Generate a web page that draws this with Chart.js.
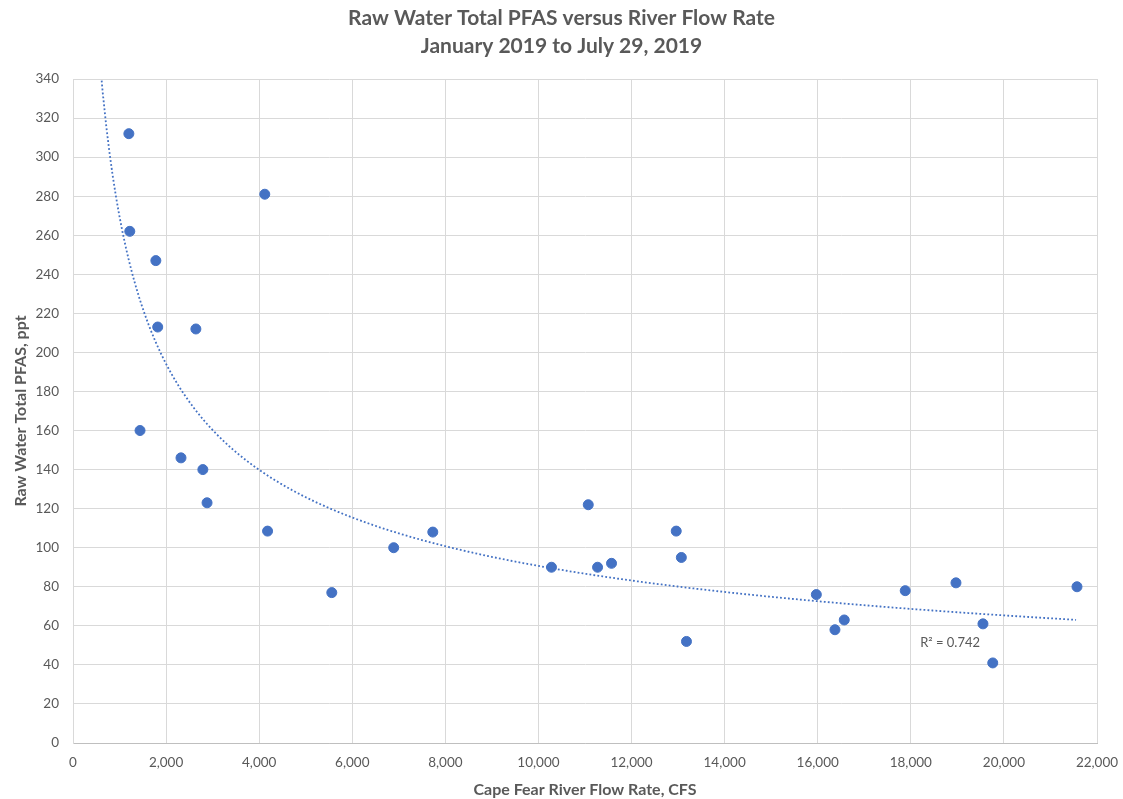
<!DOCTYPE html>
<html>
<head>
<meta charset="utf-8">
<script src="https://cdn.jsdelivr.net/npm/chart.js@4/dist/chart.umd.min.js"></script>
<style>
html,body{margin:0;padding:0;background:#fff;}
#wrap{width:1123px;height:799px;position:relative;}
</style>
</head>
<body>
<div id="wrap"><canvas id="c" width="1123" height="799"></canvas></div>
<script>
const titleLines = ["Raw Water Total PFAS versus River Flow Rate", "January 2019 to July 29, 2019"];
const xTitle = "Cape Fear River Flow Rate, CFS";
const yTitle = "Raw Water Total PFAS, ppt";
const r2Label = "R² = 0.742";

const flowCFS = [1200, 1220, 1780, 1820, 2640, 1440, 2320, 2790, 2880, 4120, 4180, 5560, 6890, 7730,
  10280, 11070, 11270, 11570, 12960, 13070, 13180, 15970, 16370, 16570, 17880, 18970, 19550, 19760, 21570];
const pfasPPT = [312, 262, 247, 213, 212, 160, 146, 140, 123, 281, 108.5, 77, 100, 108,
  90, 122, 90, 92, 108.5, 95, 52, 76, 58, 63, 78, 82, 61, 41, 80];

const xTicksMax = 22000, xStep = 2000;
const yTicksMax = 340, yStep = 20;
const trendFrom = 500, trendTo = 21550;
const r2Pos = { x: 18200, y: 51.2 };

// power regression fitted to the data (log-log least squares)
function powerFit(xs, ys){
  let n = xs.length, sx=0, sy=0, sxx=0, sxy=0;
  for (let i=0;i<n;i++){ const lx=Math.log(xs[i]), ly=Math.log(ys[i]); sx+=lx; sy+=ly; sxx+=lx*lx; sxy+=lx*ly; }
  const p = (n*sxy - sx*sy)/(n*sxx - sx*sx);
  const lc = (sy - p*sx)/n;
  return {c: Math.exp(lc), p};
}
const fit = powerFit(flowCFS, pfasPPT);
const trendPts = [];
for (let i=0;i<=300;i++){
  const x = trendFrom + (trendTo - trendFrom)*i/300;
  trendPts.push({x, y: fit.c*Math.pow(x, fit.p)});
}

const points = flowCFS.map((x,i)=>({x, y: pfasPPT[i]}));
const FONT = "Lato, 'Liberation Sans', sans-serif";
const GRAY = "#595959";
const BLUE = "#4472C4";

const titlePlugin = {
  id: 'topTitle',
  afterDraw(chart){
    const ctx = chart.ctx;
    const cx = chart.width/2;
    ctx.save();
    ctx.fillStyle = GRAY;
    ctx.font = "bold 21px " + FONT;
    ctx.textAlign = "center";
    ctx.textBaseline = "middle";
    ctx.fillText(titleLines[0], cx, 18);
    ctx.fillText(titleLines[1], cx, 46);
    // R² label
    const xs = chart.scales.x, ys = chart.scales.y;
    ctx.font = "13px " + FONT;
    ctx.textAlign = "left";
    ctx.fillText(r2Label, xs.getPixelForValue(r2Pos.x), ys.getPixelForValue(r2Pos.y));
    ctx.restore();
  }
};

new Chart(document.getElementById('c'), {
  type: 'scatter',
  data: {
    datasets: [
      { data: points, backgroundColor: BLUE, borderColor: BLUE, pointRadius: 5, pointHoverRadius: 5, order: 1 },
      { type: 'line', data: trendPts, borderColor: BLUE, borderWidth: 1.8, borderDash: [1.8, 2.2], pointRadius: 0, fill: false, tension: 0, order: 2 }
    ]
  },
  options: {
    responsive: false,
    animation: false,
    layout: { padding: { top: 79, right: 26, left: 0, bottom: 0 } },
    plugins: { legend: { display: false }, title: { display: false }, tooltip: { enabled: false } },
    scales: {
      x: {
        type: 'linear', min: 0, max: xTicksMax,
        ticks: { stepSize: xStep, color: GRAY, font: { family: FONT, size: 13.5 }, padding: 12, callback: v => v.toLocaleString('en-US') },
        grid: { color: '#d9d9d9', lineWidth: 1, drawTicks: false },
        border: { color: '#bfbfbf' },
        title: { display: true, text: xTitle, color: GRAY, font: { family: FONT, size: 16, weight: 'bold' }, padding: { top: 6, bottom: 0 } },
        afterFit(s){ s.height = 56; s.paddingLeft = 0; s.paddingRight = 0; }
      },
      y: {
        type: 'linear', min: 0, max: yTicksMax,
        ticks: { stepSize: yStep, color: GRAY, font: { family: FONT, size: 13.5 }, padding: 14 },
        grid: { color: '#d9d9d9', lineWidth: 1, drawTicks: false },
        border: { color: '#d9d9d9' },
        title: { display: true, text: yTitle, color: GRAY, font: { family: FONT, size: 16, weight: 'bold' }, padding: { top: 11, bottom: 0 } },
        afterFit(s){ s.width = 73; }
      }
    }
  },
  plugins: [titlePlugin]
});
</script>
</body>
</html>
